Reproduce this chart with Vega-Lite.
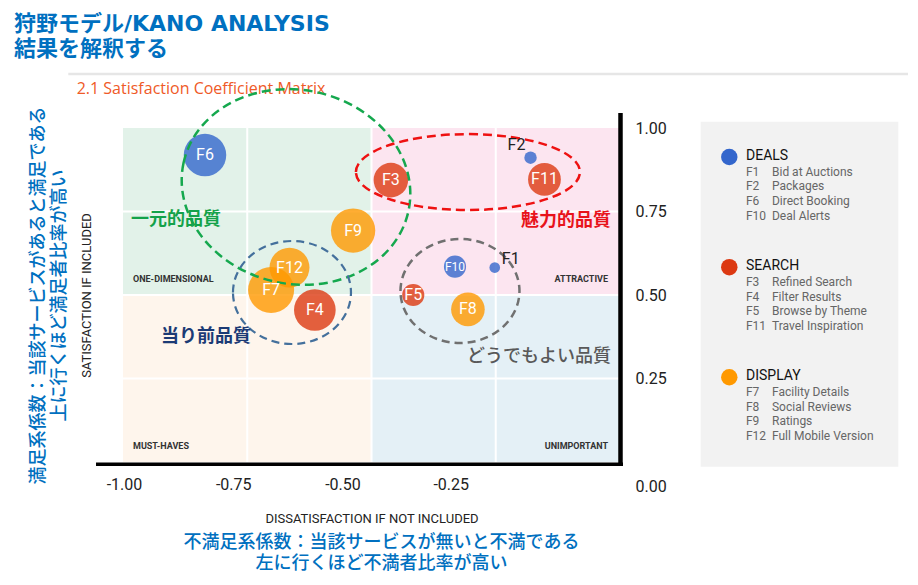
{
  "$schema": "https://vega.github.io/schema/vega-lite/v6.json",
  "width": 497,
  "height": 334,
  "autosize": {"type": "none"},
  "padding": {"left": 123, "top": 128, "right": 298, "bottom": 123},
  "background": "#ffffff",
  "config": {"view": {"stroke": null}, "font": "Roboto"},
  "title": {
    "text": ["狩野モデル/KANO ANALYSIS", "結果を解釈する"],
    "anchor": "start",
    "frame": "group",
    "dx": -109,
    "dy": -2,
    "font": "DejaVu Sans, Noto Sans CJK JP",
    "fontSize": 22,
    "fontWeight": "bold",
    "color": "#0070C0",
    "lineHeight": 25,
    "offset": 10
  },
  "datasets": {
    "features": [
      {"code": "F1", "name": "Bid at Auctions", "group": "DEALS", "dissat": -0.252, "sat": 0.582, "weight": 1.44},
      {"code": "F2", "name": "Packages", "group": "DEALS", "dissat": -0.180, "sat": 0.911, "weight": 1.96},
      {"code": "F3", "name": "Refined Search", "group": "SEARCH", "dissat": -0.461, "sat": 0.844, "weight": 15.2},
      {"code": "F4", "name": "Filter Results", "group": "SEARCH", "dissat": -0.614, "sat": 0.455, "weight": 22.1},
      {"code": "F5", "name": "Browse by Theme", "group": "SEARCH", "dissat": -0.416, "sat": 0.500, "weight": 6.25},
      {"code": "F6", "name": "Direct Booking", "group": "DEALS", "dissat": -0.835, "sat": 0.919, "weight": 23.0},
      {"code": "F7", "name": "Facility Details", "group": "DISPLAY", "dissat": -0.702, "sat": 0.515, "weight": 27.0},
      {"code": "F8", "name": "Social Reviews", "group": "DISPLAY", "dissat": -0.306, "sat": 0.457, "weight": 14.4},
      {"code": "F9", "name": "Ratings", "group": "DISPLAY", "dissat": -0.537, "sat": 0.693, "weight": 25.0},
      {"code": "F10", "name": "Deal Alerts", "group": "DEALS", "dissat": -0.332, "sat": 0.585, "weight": 6.25},
      {"code": "F11", "name": "Travel Inspiration", "group": "SEARCH", "dissat": -0.152, "sat": 0.846, "weight": 13.7},
      {"code": "F12", "name": "Full Mobile Version", "group": "DISPLAY", "dissat": -0.665, "sat": 0.582, "weight": 20.3}
    ],
    "quadrants": [
      {"q": "ONE-DIMENSIONAL", "x1": -1, "x2": -0.5, "y1": 0.5, "y2": 1},
      {"q": "ATTRACTIVE", "x1": -0.5, "x2": 0, "y1": 0.5, "y2": 1},
      {"q": "MUST-HAVES", "x1": -1, "x2": -0.5, "y1": 0, "y2": 0.5},
      {"q": "UNIMPORTANT", "x1": -0.5, "x2": 0, "y1": 0, "y2": 0.5}
    ],
    "gridlines": [
      {"dir": "v", "v": -0.75}, {"dir": "v", "v": -0.5}, {"dir": "v", "v": -0.25},
      {"dir": "h", "v": 0.25}, {"dir": "h", "v": 0.5}, {"dir": "h", "v": 0.75}
    ],
    "annotations": [
      {"label": "一元的品質", "tx": -0.8934, "ty": 0.7246, "cx": -0.6519, "cy": 0.8234},
      {"label": "魅力的品質", "tx": -0.1087, "ty": 0.7216, "cx": -0.306, "cy": 0.868},
      {"label": "当り前品質", "tx": -0.833, "ty": 0.374, "cx": -0.660, "cy": 0.5075},
      {"label": "どうでもよい品質", "tx": -0.163, "ty": 0.3144, "cx": -0.322, "cy": 0.512}
    ]
  },
  "layer": [
    {
      "layer": [
        {
          "data": {"name": "quadrants"},
          "mark": {"type": "rect"},
          "encoding": {
            "x": {"field": "x1", "type": "quantitative",
              "scale": {"domain": [-1, 0], "nice": false, "zero": false},
              "axis": {"orient": "bottom", "labels": false, "ticks": false, "domain": false, "grid": false,
                "title": ["不満足系係数：当該サービスが無いと不満である", "左に行くほど不満者比率が高い"],
                "titleFont": "Noto Sans CJK JP", "titleFontSize": 18, "titleFontWeight": 500, "titleColor": "#0070C0",
                "titleLineHeight": 21, "titlePadding": 71, "titleX": 258, "minExtent": 0, "maxExtent": 0}},
            "x2": {"field": "x2"},
            "y": {"field": "y1", "type": "quantitative",
              "scale": {"domain": [0, 1], "nice": false, "zero": false},
              "axis": {"orient": "left", "labels": false, "ticks": false, "domain": false, "grid": false,
                "title": "SATISFACTION IF INCLUDED", "titleFont": "Roboto", "titleFontSize": 13, "titleFontWeight": "normal",
                "titleColor": "#222222", "titlePadding": 30, "minExtent": 0, "maxExtent": 0}},
            "y2": {"field": "y2"},
            "fill": {"field": "q", "type": "nominal", "legend": null,
              "scale": {"domain": ["ONE-DIMENSIONAL", "ATTRACTIVE", "MUST-HAVES", "UNIMPORTANT", "一元的品質", "魅力的品質", "当り前品質", "どうでもよい品質"],
                "range": ["#e2f2e9", "#fce5f0", "#fef5ec", "#e4f0f6", "#14a24a", "#e8141b", "#1b3a75", "#595959"]}}
          }
        },
        {
          "data": {"name": "gridlines"},
          "transform": [{"filter": "datum.dir === 'v'"}],
          "mark": {"type": "rule", "color": "#ffffff", "strokeWidth": 2},
          "encoding": {"x": {"field": "v", "type": "quantitative"}}
        },
        {
          "data": {"name": "gridlines"},
          "transform": [{"filter": "datum.dir === 'h'"}],
          "mark": {"type": "rule", "color": "#ffffff", "strokeWidth": 2},
          "encoding": {"y": {"field": "v", "type": "quantitative"}}
        },
        {
          "data": {"values": [{}]},
          "mark": {"type": "rule", "color": "#000000", "strokeWidth": 3.5},
          "encoding": {"x": {"datum": -1.0543}, "x2": {"datum": 0.006}, "y": {"datum": -0.0069}}
        },
        {
          "data": {"values": [{}]},
          "mark": {"type": "rule", "color": "#000000", "strokeWidth": 4.5},
          "encoding": {"x": {"datum": 0.001}, "y": {"datum": 1.0449}, "y2": {"datum": -0.012}}
        },
        {
          "data": {"values": [{}]},
          "mark": {"type": "rule", "color": "#e6e6e6", "strokeWidth": 2.5},
          "encoding": {"x": {"datum": -1.1101}, "x2": {"datum": 0.5795}, "y": {"datum": 1.1617}}
        },
        {
          "data": {"values": [{}]},
          "mark": {"type": "text", "align": "left", "baseline": "middle", "font": "Open Sans", "fontSize": 16, "fontWeight": 400, "color": "#ef5a28"},
          "encoding": {"x": {"datum": -1.0932}, "y": {"datum": 1.1159}, "text": {"value": "2.1 Satisfaction Coefficient Matrix"}}
        },
        {
          "data": {"values": [{}]},
          "mark": {"type": "rect", "fill": "#f2f2f2"},
          "encoding": {"x": {"datum": 0.1624}, "x2": {"datum": 0.56}, "y": {"datum": 1.0189}, "y2": {"datum": -0.0141}}
        }
      ]
    },
    {
      "layer": [
        {
          "data": {"name": "features"},
          "mark": {"type": "circle", "opacity": 0.8},
          "encoding": {
            "x": {"field": "dissat", "type": "quantitative",
              "scale": {"domain": [-1, 0], "nice": false, "zero": false},
              "axis": {"orient": "bottom", "values": [-1, -0.75, -0.5, -0.25], "labelExpr": "replace(format(datum.value, '.2f'), '\u2212', '-')",
                "domain": false, "ticks": false, "tickSize": 0, "grid": false,
                "labelFlush": false, "labelOverlap": false, "labelPadding": 14, "labelFont": "Roboto", "labelFontSize": 16, "labelColor": "#222222",
                "labelOffset": {"condition": [
                  {"test": "datum.value === -0.75", "value": -14},
                  {"test": "datum.value === -0.5", "value": -29},
                  {"test": "datum.value === -0.25", "value": -45}], "value": 1},
                "title": "DISSATISFACTION IF NOT INCLUDED", "titleFont": "Roboto", "titleFontSize": 13, "titleFontWeight": "normal",
                "titleColor": "#222222", "titlePadding": 20, "minExtent": 30, "maxExtent": 30}},
            "y": {"field": "sat", "type": "quantitative",
              "scale": {"domain": [0, 1], "nice": false, "zero": false},
              "axis": {"orient": "right", "values": [0, 0.25, 0.5, 0.75, 1], "format": ".2f", "domain": false, "ticks": false, "tickSize": 0, "grid": false,
                "labelFlush": false, "labelOverlap": false, "labelPadding": 15, "labelFont": "Roboto", "labelFontSize": 16, "labelColor": "#222222",
                "labelAlign": "left", "labelBaseline": "middle",
                "labelOffset": {"condition": {"test": "datum.value === 0", "value": 24}, "value": 0},
                "title": null}},
            "size": {"field": "weight", "type": "quantitative", "legend": null, "scale": {"type": "linear", "domain": [0, 30], "range": [0, 2356]}},
            "color": {"field": "group", "type": "nominal", "legend": null,
              "scale": {"domain": ["DEALS", "SEARCH", "DISPLAY"], "range": ["#3366cc", "#dc3912", "#ff9900"]}},
            "order": {"field": "weight", "sort": "descending"}
          }
        },
        {
          "data": {"name": "annotations"},
          "transform": [{"filter": "datum.label === '一元的品質'"}],
          "mark": {"type": "point", "shape": "M -1 0 A 1 0.8435 0 1 1 1 0 A 1 0.8435 0 1 1 -1 0 Z", "size": 52900, "angle": 12,
            "filled": false, "stroke": "#15a84e", "strokeWidth": 2.5, "strokeDash": [9, 5], "opacity": 1},
          "encoding": {"x": {"field": "cx", "type": "quantitative"}, "y": {"field": "cy", "type": "quantitative"}}
        },
        {
          "data": {"name": "annotations"},
          "transform": [{"filter": "datum.label === '魅力的品質'"}],
          "mark": {"type": "point", "shape": "M -1 0 A 1 0.339 0 1 1 1 0 A 1 0.339 0 1 1 -1 0 Z", "size": 50176,
            "filled": false, "stroke": "#ee1111", "strokeWidth": 2.5, "strokeDash": [9, 5], "opacity": 1},
          "encoding": {"x": {"field": "cx", "type": "quantitative"}, "y": {"field": "cy", "type": "quantitative"}}
        },
        {
          "data": {"name": "annotations"},
          "transform": [{"filter": "datum.label === '当り前品質'"}],
          "mark": {"type": "point", "shape": "M -1 0 A 1 0.873 0 1 1 1 0 A 1 0.873 0 1 1 -1 0 Z", "size": 13924,
            "filled": false, "stroke": "#44709c", "strokeWidth": 2.2, "strokeDash": [8, 5], "opacity": 1},
          "encoding": {"x": {"field": "cx", "type": "quantitative"}, "y": {"field": "cy", "type": "quantitative"}}
        },
        {
          "data": {"name": "annotations"},
          "transform": [{"filter": "datum.label === 'どうでもよい品質'"}],
          "mark": {"type": "point", "shape": "M -1 0 A 1 0.874 0 1 1 1 0 A 1 0.874 0 1 1 -1 0 Z", "size": 14161,
            "filled": false, "stroke": "#707070", "strokeWidth": 2.5, "strokeDash": [8, 5], "opacity": 1},
          "encoding": {"x": {"field": "cx", "type": "quantitative"}, "y": {"field": "cy", "type": "quantitative"}}
        },
        {
          "data": {"name": "features"},
          "transform": [{"filter": "datum.weight > 3"}],
          "mark": {"type": "text", "color": "#ffffff", "font": "Roboto", "align": "center", "baseline": "middle"},
          "encoding": {
            "x": {"field": "dissat", "type": "quantitative"},
            "y": {"field": "sat", "type": "quantitative"},
            "text": {"field": "code"},
            "size": {"condition": {"test": "datum.code === 'F10'", "value": 12}, "value": 16}
          }
        },
        {
          "data": {"name": "features"},
          "transform": [{"filter": "datum.code === 'F2'"}],
          "mark": {"type": "text", "color": "#222222", "font": "Roboto", "fontSize": 16, "align": "center", "baseline": "middle", "dx": -14, "dy": -13},
          "encoding": {"x": {"field": "dissat", "type": "quantitative"}, "y": {"field": "sat", "type": "quantitative"}, "text": {"field": "code"}}
        },
        {
          "data": {"name": "features"},
          "transform": [{"filter": "datum.code === 'F1'"}],
          "mark": {"type": "text", "color": "#222222", "font": "Roboto", "fontSize": 16, "align": "center", "baseline": "middle", "dx": 16, "dy": -9},
          "encoding": {"x": {"field": "dissat", "type": "quantitative"}, "y": {"field": "sat", "type": "quantitative"}, "text": {"field": "code"}}
        },
        {
          "data": {"name": "annotations"},
          "transform": [{"filter": "datum.label !== 'どうでもよい品質'"}],
          "mark": {"type": "text", "font": "Noto Sans CJK JP", "fontSize": 18, "fontWeight": "bold", "align": "center", "baseline": "middle"},
          "encoding": {
            "x": {"field": "tx", "type": "quantitative"},
            "y": {"field": "ty", "type": "quantitative"},
            "text": {"field": "label"},
            "fill": {"field": "label", "type": "nominal", "legend": null}
          }
        },
        {
          "data": {"name": "annotations"},
          "transform": [{"filter": "datum.label === 'どうでもよい品質'"}],
          "mark": {"type": "text", "font": "Noto Sans CJK JP", "fontSize": 18, "fontWeight": 500, "align": "center", "baseline": "middle"},
          "encoding": {
            "x": {"field": "tx", "type": "quantitative"},
            "y": {"field": "ty", "type": "quantitative"},
            "text": {"field": "label"},
            "fill": {"field": "label", "type": "nominal", "legend": null}
          }
        },
        {
          "data": {"name": "quadrants"},
          "transform": [{"filter": "datum.x1 === -1"}],
          "mark": {"type": "text", "align": "left", "baseline": "middle", "dx": 10, "dy": -16, "font": "Roboto", "fontSize": 9, "fontWeight": "bold", "color": "#333333"},
          "encoding": {"x": {"field": "x1", "type": "quantitative"}, "y": {"field": "y1", "type": "quantitative"}, "text": {"field": "q"}}
        },
        {
          "data": {"name": "quadrants"},
          "transform": [{"filter": "datum.x2 === 0"}],
          "mark": {"type": "text", "align": "right", "baseline": "middle", "dx": -12, "dy": -16, "font": "Roboto", "fontSize": 9, "fontWeight": "bold", "color": "#333333"},
          "encoding": {"x": {"field": "x2", "type": "quantitative"}, "y": {"field": "y1", "type": "quantitative"}, "text": {"field": "q"}}
        }
      ]
    },
    {
      "layer": [
        {
          "data": {"name": "features"},
          "transform": [{"aggregate": [{"op": "count", "as": "n"}], "groupby": ["group"]}],
          "mark": {"type": "circle", "size": 272, "opacity": 1},
          "encoding": {
            "x": {"datum": 0.2199, "axis": null},
            "y": {"field": "group", "type": "nominal",
              "scale": {"type": "point", "padding": 0, "range": [29, 308],
                "domain": ["DEALS", "g1", "F1", "g2", "F2", "g3", "F6", "g4", "F10", "g5", "g6", "g7", "g8", "g9", "g10",
                  "SEARCH", "g11", "F3", "g12", "F4", "g13", "F5", "g14", "F11", "g15", "g16", "g17", "g18", "g19", "g20",
                  "DISPLAY", "g21", "F7", "g22", "F8", "g23", "F9", "g24", "F12"]},
              "axis": {"orient": "left", "labels": false, "ticks": false, "domain": false, "grid": false,
                "title": ["満足系係数：当該サービスがあると満足である", "上に行くほど満足者比率が高い"],
                "titleFont": "Noto Sans CJK JP", "titleFontSize": 18, "titleFontWeight": 500, "titleColor": "#0070C0",
                "titleLineHeight": 21, "titlePadding": 55, "titleY": 167, "minExtent": 0, "maxExtent": 0}},
            "color": {"field": "group", "type": "nominal", "legend": null,
              "scale": {"domain": ["DEALS", "SEARCH", "DISPLAY"], "range": ["#3366cc", "#dc3912", "#ff9900"]}}
          }
        },
        {
          "data": {"name": "features"},
          "transform": [{"aggregate": [{"op": "count", "as": "n"}], "groupby": ["group"]}],
          "mark": {"type": "text", "align": "left", "baseline": "middle", "dy": -1.5, "font": "Roboto", "fontSize": 14, "color": "#111111"},
          "encoding": {
            "x": {"datum": 0.2535, "axis": null},
            "y": {"field": "group", "type": "nominal"},
            "text": {"field": "group"}
          }
        },
        {
          "data": {"name": "features"},
          "mark": {"type": "text", "align": "left", "baseline": "middle", "font": "Roboto", "fontSize": 12, "color": "#666666"},
          "encoding": {
            "x": {"datum": 0.2535, "axis": null},
            "y": {"field": "code", "type": "nominal"},
            "text": {"field": "code"}
          }
        },
        {
          "data": {"name": "features"},
          "mark": {"type": "text", "align": "left", "baseline": "middle", "font": "Roboto", "fontSize": 12, "color": "#666666"},
          "encoding": {
            "x": {"datum": 0.3058, "axis": null},
            "y": {"field": "code", "type": "nominal"},
            "text": {"field": "name"}
          }
        }
      ]
    }
  ],
  "resolve": {
    "scale": {"y": "independent"},
    "axis": {"x": "independent", "y": "independent"}
  }
}
